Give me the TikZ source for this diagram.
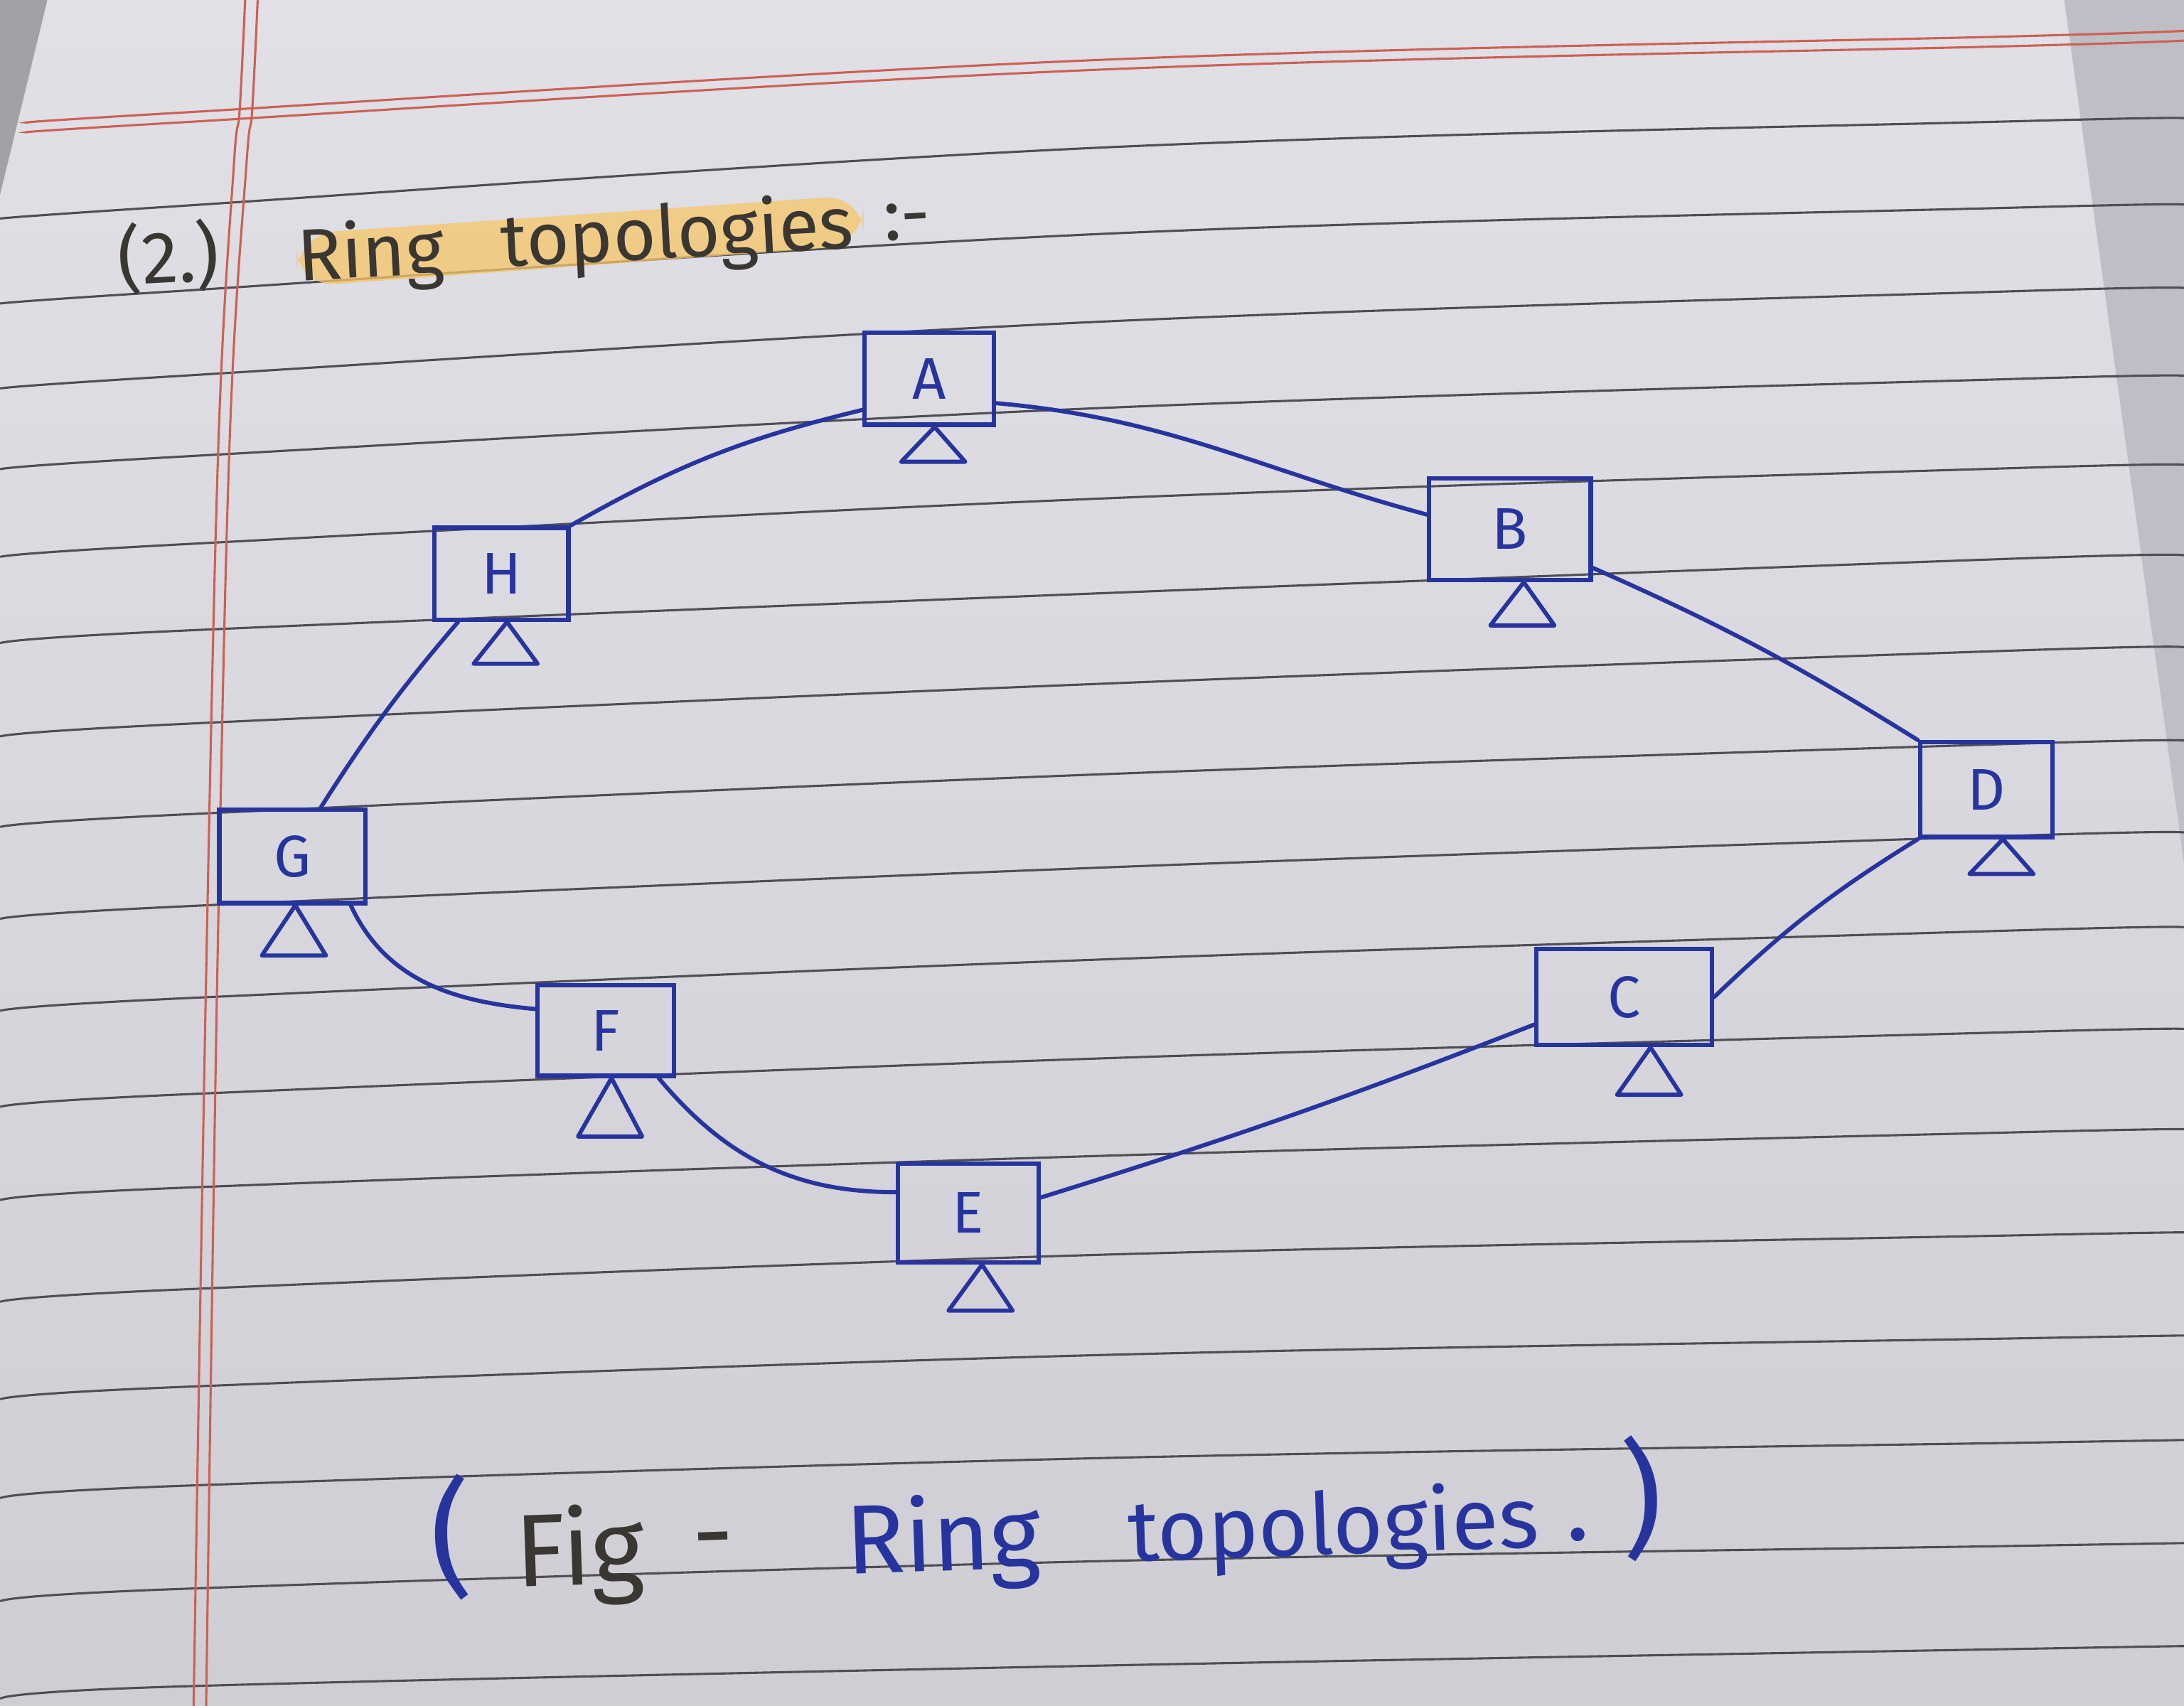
\documentclass[tikz,border=0pt]{standalone}
\usepackage{fontspec}
\setmainfont{Fira Sans}
\usetikzlibrary{calc}
\definecolor{ink}{RGB}{40,52,158}
\definecolor{pencil}{RGB}{58,54,50}
\definecolor{papertop}{RGB}{224,224,230}
\definecolor{paperbot}{RGB}{206,206,212}
\definecolor{rulec}{RGB}{78,78,84}
\definecolor{marginc}{RGB}{206,96,82}
\definecolor{hilite}{RGB}{247,198,104}
\definecolor{shadec}{RGB}{190,190,198}
\newcommand{\standfor}[3]{\draw[stand] ($(#1.south)+(#2,0)$) -- ++(-24,#3) -- ++(46,0) -- cycle;}
\begin{document}
\begin{tikzpicture}[x=0.01cm,y=-0.01cm,
  pc/.style={draw=ink,line width=0.9pt,text=ink,inner sep=0pt,
             font=\fontsize{12}{12}\selectfont},
  link/.style={draw=ink,line width=0.85pt,line cap=round},
  stand/.style={draw=ink,line width=0.85pt,line join=round},
  rl/.style={draw=rulec,line width=0.45pt},
  ml/.style={draw=marginc,line width=0.45pt},
  ttl/.style={text=pencil,inner sep=0pt,anchor=base,font=\fontsize{15}{15}\selectfont},
  capb/.style={text=ink,inner sep=0pt,anchor=base,font=\fontsize{20}{20}\selectfont},
  capk/.style={text=pencil,inner sep=0pt,anchor=base,font=\fontsize{21}{21}\selectfont}]
% paper
\shade[top color=papertop,bottom color=paperbot] (0,0) rectangle (1568,1225);
\useasboundingbox (0,0) rectangle (1568,1225);
\fill[shadec] (1482,0) -- (1568,0) -- (1568,620) -- cycle;
\fill[shadec!85!black] (0,0) -- (34,0) -- (0,140) -- cycle;
% ruled lines
\foreach \a/\b/\c in {148/106/87,209/168/149,270/231/209,328/293/272,391/358/336,
  453/426/401,520/491/467,585/556/534,651/623/600,717/689/668,786/760/741,
  853/830/813,926/901/887,996/973/961,1067/1047/1036,1141/1121/1110,1211/1196/1184}
  \draw[rl] plot[smooth,tension=0.6] coordinates {(0,{\a+9}) (128,\a) (790,\b) (1450,\c) (1568,{\c-2})};
% red margin lines
\draw[ml] plot[smooth,tension=0.6] coordinates {(20,88) (128,81) (790,43) (1450,26) (1568,22)};
\draw[ml] plot[smooth,tension=0.6] coordinates {(20,95) (128,88) (790,50) (1450,33) (1568,29)};
\draw[ml] plot[smooth,tension=0.6] coordinates {(176,0) (172,80) (168,117) (157,313) (148,700) (139,1225)};
\draw[ml] plot[smooth,tension=0.6] coordinates {(185,0) (181,80) (177,117) (165,313) (156,700) (148,1225)};
% title
\fill[hilite,opacity=0.75,rounded corners=8] (213,168) -- (620,140) -- (620,176) -- (213,206) -- cycle;
\node[ttl,rotate=3] (num) at (122,203) {(2.)};
\node[ttl,rotate=3] (tring) at (267,199) {Ring};
\node[ttl,rotate=3] (ttopo) at (487,185) {topologies};
\node[ttl,rotate=3] (tcolon) at (652,172) {:-};
% computers
\node[pc,minimum width=0.93cm,minimum height=0.66cm] (A) at (667,272) {A};
\node[pc,minimum width=1.16cm,minimum height=0.73cm] (B) at (1084,380) {B};
\node[pc,minimum width=0.95cm,minimum height=0.68cm] (D) at (1426,567) {D};
\node[pc,minimum width=1.26cm,minimum height=0.69cm] (C) at (1166,716) {C};
\node[pc,minimum width=1.01cm,minimum height=0.71cm] (E) at (695,871) {E};
\node[pc,minimum width=0.98cm,minimum height=0.65cm] (F) at (435,740) {F};
\node[pc,minimum width=1.05cm,minimum height=0.67cm] (G) at (210,615) {G};
\node[pc,minimum width=0.96cm,minimum height=0.66cm] (H) at (360,412) {H};
% stands
\standfor{A}{4}{25}
\standfor{B}{10}{31}
\standfor{D}{12}{25}
\standfor{C}{19}{34}
\standfor{E}{10}{33}
\standfor{F}{4}{42}
\standfor{G}{2}{36}
\standfor{H}{4}{30}
% ring links
\draw[link] (H.north east) to[bend left=8] (A.205);
\draw[link] (A.-20) to[out=-5,in=165] (B.170);
\draw[link] (B.-25) to[bend left=4] (D.north west);
\draw[link] (D.south west) to[bend right=6] (C.east);
\draw[link] (C.197) to[bend left=2] (E.12);
\draw[link] (E.164) to[out=180,in=-50] (F.-42);
\draw[link] (F.163) to[out=175,in=-65] (G.-40);
\draw[link] (G.60) to[bend left=4] (H.228);
% caption
\node[capb,rotate=2,font=\fontsize{26}{26}\selectfont] (c1) at (325,1136) {(};
\node[capk,rotate=2] (c2) at (417,1138) {Fig};
\node[capk,rotate=2] (c3) at (513,1126) {-};
\node[capb,rotate=2] (c4) at (678,1128) {Ring};
\node[capb,rotate=2,font=\fontsize{17.5}{17.5}\selectfont] (c5) at (958,1116) {topologies};
\node[capb,rotate=2] (c6) at (1133,1106) {.};
\node[capb,rotate=2,font=\fontsize{26}{26}\selectfont] (c7) at (1180,1108) {)};
\end{tikzpicture}
\end{document}
